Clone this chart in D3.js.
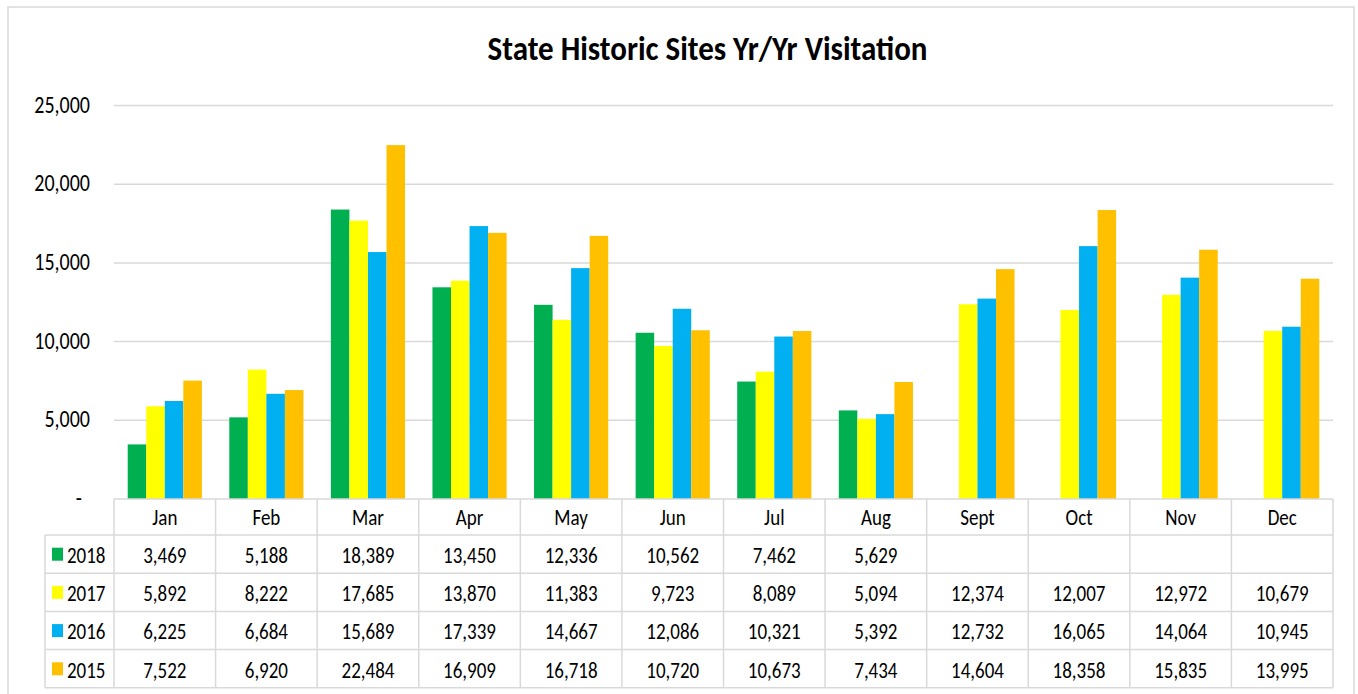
<!DOCTYPE html>
<html>
<head>
<meta charset="utf-8">
<script src="https://cdn.jsdelivr.net/npm/d3@7"></script>
<style>
  html, body { margin: 0; padding: 0; background: #fff; }
  svg text { font-family: "Carlito", "Liberation Sans Narrow", "Arial Narrow", "Liberation Sans", sans-serif; fill: #000; }
</style>
</head>
<body>
<svg id="chart" width="1358" height="694"></svg>
<script>
// chart data
const months = ["Jan", "Feb", "Mar", "Apr", "May", "Jun", "Jul", "Aug", "Sept", "Oct", "Nov", "Dec"];
const years = ["2018", "2017", "2016", "2015"];
const colors = ["#00B050", "#FFFF00", "#00B0F0", "#FFC000"];
const v2018 = [3469, 5188, 18389, 13450, 12336, 10562, 7462, 5629, null, null, null, null];
const v2017 = [5892, 8222, 17685, 13870, 11383, 9723, 8089, 5094, 12374, 12007, 12972, 10679];
const v2016 = [6225, 6684, 15689, 17339, 14667, 12086, 10321, 5392, 12732, 16065, 14064, 10945];
const v2015 = [7522, 6920, 22484, 16909, 16718, 10720, 10673, 7434, 14604, 18358, 15835, 13995];
const yTicks = [0, 5000, 10000, 15000, 20000, 25000];

const series = [v2018, v2017, v2016, v2015];

const svg = d3.select("#chart");
const plot = { left: 114, right: 1333, top: 105.5, bottom: 499 };
const rowH = 38.2;
const headerH = 36;
const legendLeft = 45;
const grid = "#d9d9d9";
const stretch = 1.2; // source text is a bit taller than wide

// text helper: anchor point + vertical stretch
const place = (px, py, s = stretch) => `translate(${px},${py}) scale(1,${s})`;

// outer frame
svg.append("rect")
  .attr("x", 8).attr("y", 7)
  .attr("width", 1346).attr("height", 700)
  .attr("fill", "none").attr("stroke", grid).attr("stroke-width", 1.5);

// title
svg.append("text")
  .attr("transform", place(707.5, 60, 1.13))
  .attr("text-anchor", "middle")
  .attr("font-size", 31).attr("font-weight", "bold")
  .text("State Historic Sites Yr/Yr Visitation");

const x = d3.scaleBand().domain(months).range([plot.left, plot.right]);
const xSub = d3.scaleBand().domain(years)
  .range([x.bandwidth() * 0.135, x.bandwidth() * 0.865]);
const y = d3.scaleLinear().domain([0, 25000]).range([plot.bottom, plot.top]);

// gridlines + y labels
const fmt = d3.format(",");
svg.append("g").selectAll("line")
  .data(yTicks.filter(d => d > 0))
  .join("line")
  .attr("x1", plot.left).attr("x2", plot.right)
  .attr("y1", d => y(d)).attr("y2", d => y(d))
  .attr("stroke", grid).attr("stroke-width", 1.5);

svg.append("g").selectAll("text")
  .data(yTicks)
  .join("text")
  .attr("transform", d => place(d === 0 ? 82 : 90, y(d) + 7))
  .attr("text-anchor", "end")
  .attr("font-size", 20)
  .text(d => d === 0 ? "-" : fmt(d));

// bars
const groups = svg.append("g").selectAll("g")
  .data(months)
  .join("g")
  .attr("transform", d => `translate(${x(d)},0)`);

groups.selectAll("rect")
  .data((m, i) => years.map((yr, k) => ({ yr, k, v: series[k][i] })).filter(d => d.v != null))
  .join("rect")
  .attr("x", d => xSub(d.yr))
  .attr("width", xSub.bandwidth())
  .attr("y", d => y(d.v))
  .attr("height", d => y(0) - y(d.v))
  .attr("fill", d => colors[d.k]);

// data table
const table = svg.append("g");
const tTop = plot.bottom;
const rowTop = i => tTop + headerH + i * rowH;
const tBottom = rowTop(years.length);

// horizontal lines
table.append("line")
  .attr("x1", plot.left).attr("x2", plot.right)
  .attr("y1", tTop).attr("y2", tTop)
  .attr("stroke", grid).attr("stroke-width", 1.5);
table.selectAll(".hline")
  .data(d3.range(years.length + 1))
  .join("line")
  .attr("class", "hline")
  .attr("x1", legendLeft).attr("x2", plot.right)
  .attr("y1", d => rowTop(d)).attr("y2", d => rowTop(d))
  .attr("stroke", grid).attr("stroke-width", 1.5);

// vertical lines
table.selectAll(".vline")
  .data(months.map(m => x(m)).concat([plot.right]))
  .join("line")
  .attr("class", "vline")
  .attr("x1", d => d).attr("x2", d => d)
  .attr("y1", tTop).attr("y2", tBottom)
  .attr("stroke", grid).attr("stroke-width", 1.5);
table.append("line")
  .attr("x1", legendLeft).attr("x2", legendLeft)
  .attr("y1", rowTop(0)).attr("y2", tBottom)
  .attr("stroke", grid).attr("stroke-width", 1.5);

// month header
table.selectAll(".mlabel")
  .data(months)
  .join("text")
  .attr("class", "mlabel")
  .attr("transform", d => place(x(d) + x.bandwidth() / 2, tTop + 26))
  .attr("text-anchor", "middle")
  .attr("font-size", 19)
  .text(d => d);

// legend keys + year labels
const legend = table.selectAll(".leg")
  .data(years)
  .join("g")
  .attr("class", "leg")
  .attr("transform", (d, i) => `translate(0,${rowTop(i)})`);
legend.append("rect")
  .attr("x", 52).attr("y", 12.7)
  .attr("width", 11).attr("height", 13)
  .attr("fill", (d, i) => colors[i]);
legend.append("text")
  .attr("transform", place(67, 28))
  .attr("font-size", 19)
  .text(d => d);

// values
years.forEach((yr, k) => {
  table.append("g").selectAll("text")
    .data(months.map((m, i) => ({ m, v: series[k][i] })).filter(d => d.v != null))
    .join("text")
    .attr("transform", d => place(x(d.m) + x.bandwidth() / 2, rowTop(k) + 28))
    .attr("text-anchor", "middle")
    .attr("font-size", 19)
    .text(d => fmt(d.v));
});
</script>
</body>
</html>
